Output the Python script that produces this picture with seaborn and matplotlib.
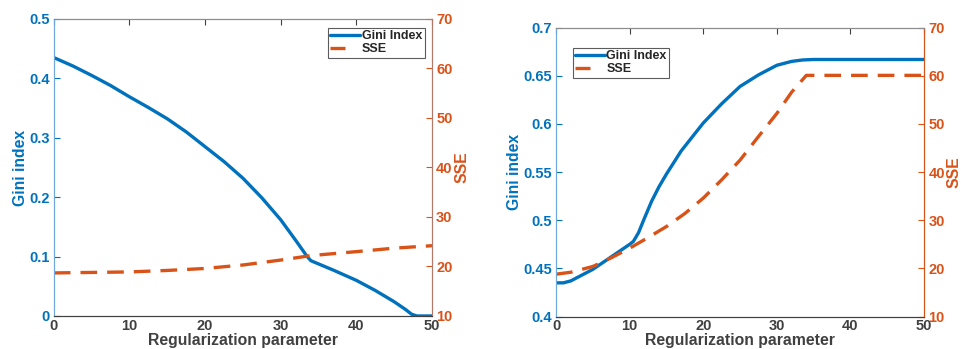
import numpy as np
import pandas as pd
import matplotlib
matplotlib.use("Agg")
import matplotlib.pyplot as plt
import seaborn as sns
from matplotlib.lines import Line2D

sns.set_style("white")
plt.rcParams['font.family'] = ['Liberation Sans', 'DejaVu Sans']
plt.rcParams['font.weight'] = 'bold'

# Left panel data
x_left = [0, 2.5, 5, 7.5, 10, 12.5, 15, 17.5, 20, 22.5, 25, 27.5, 30, 32, 33.5, 34,
          37, 40, 42.5, 45, 46.5, 47.3, 48, 50]
gini_left = [0.435, 0.421, 0.405, 0.388, 0.369, 0.351, 0.332, 0.310, 0.285, 0.260,
             0.232, 0.199, 0.162, 0.127, 0.100, 0.093, 0.077, 0.060, 0.043, 0.024,
             0.011, 0.003, 0.0, 0.0]
x_sse_left = [0, 10, 15, 20, 25, 30, 34, 40, 45, 50]
sse_left = [18.7, 18.9, 19.2, 19.6, 20.3, 21.3, 22.2, 23.0, 23.7, 24.2]

# Right panel data
x_right = [0, 1, 2, 3.5, 5, 7.5, 10, 10.5, 11.2, 12, 13, 14, 15, 17, 20, 22.5, 25,
           27.5, 30, 32, 33.5, 35, 50]
gini_right = [0.435, 0.435, 0.437, 0.443, 0.449, 0.462, 0.475, 0.478, 0.487, 0.502,
              0.520, 0.535, 0.548, 0.572, 0.601, 0.621, 0.639, 0.651, 0.661, 0.665,
              0.6665, 0.667, 0.667]
x_sse_right = [0, 2, 5, 7.5, 10, 12.5, 15, 17.5, 20, 22.5, 25, 27.5, 30, 32, 34, 50]
sse_right = [18.8, 19.2, 20.4, 22.2, 24.2, 26.4, 28.7, 31.4, 34.6, 38.4, 42.5, 47.4,
             52.2, 56.6, 60.1, 60.1]

xticks = [0, 10, 20, 30, 40, 50]
yticks_left = [0, 0.1, 0.2, 0.3, 0.4, 0.5]
yticks_right = [0.4, 0.45, 0.5, 0.55, 0.6, 0.65, 0.7]
sse_ticks = [10, 20, 30, 40, 50, 60, 70]

BLUE = '#0072BD'
ORANGE = '#D95319'
GRAY = '#404040'

fig = plt.figure(figsize=(9.61, 3.49), dpi=100)
ax1 = fig.add_axes([0.056, 0.0946, 0.3935, 0.851])
ax2 = fig.add_axes([0.5786, 0.093, 0.383, 0.8276])

TS = 10.5


def panel(ax, xg, g, xs, s, yt, ylim, legend_bbox, right_spine):
    sns.lineplot(x=xg, y=g, ax=ax, color=BLUE, lw=2.4, label='Gini Index', legend=False)
    ax.set_xlim(0, 50)
    ax.set_ylim(*ylim)
    ax.set_xticks(xticks)
    ax.set_yticks(yt)
    ax.set_yticklabels([f"{v:g}" for v in yt])
    ax.tick_params(axis='y', colors=BLUE, direction='in', length=4, labelsize=TS, width=0.8,
                   pad=3)
    ax.tick_params(axis='x', colors=GRAY, direction='in', length=4, labelsize=TS, top=True,
                   width=0.8, pad=2)
    for lab in ax.get_yticklabels():
        lab.set_color(BLUE)
        lab.set_fontweight('bold')
    for lab in ax.get_xticklabels():
        lab.set_color(GRAY)
        lab.set_fontweight('bold')
    ax.set_xlabel('Regularization parameter', fontsize=11.3, fontweight='bold', color=GRAY,
                  labelpad=0)
    ax.set_ylabel('Gini index', fontsize=11.3, fontweight='bold', color=BLUE, labelpad=1)
    ax2_ = ax.twinx()
    sns.lineplot(x=xs, y=s, ax=ax2_, color=ORANGE, lw=2.4, label='SSE', legend=False)
    ax2_.lines[0].set_dashes([5, 3])
    ax2_.set_ylim(10, 70)
    ax2_.set_yticks(sse_ticks)
    ax2_.tick_params(axis='y', colors=ORANGE, direction='in', length=4, labelsize=TS,
                     width=0.8, pad=3)
    for lab in ax2_.get_yticklabels():
        lab.set_color(ORANGE)
        lab.set_fontweight('bold')
    ax2_.set_ylabel('SSE', fontsize=11.3, fontweight='bold', color=ORANGE, labelpad=1)
    for a in (ax, ax2_):
        a.spines['top'].set_color('#8c8c8c')
        a.spines['bottom'].set_color(GRAY)
        a.spines['left'].set_color('#6fa8dc')
        a.spines['right'].set_color(right_spine)
        for sp in a.spines.values():
            sp.set_linewidth(0.8)
    handles = [Line2D([], [], color=BLUE, lw=2.4),
               Line2D([], [], color=ORANGE, lw=2.4, dashes=[4.5, 20])]
    leg = ax2_.legend(handles, ['Gini Index', 'SSE'], loc='upper left',
                      bbox_to_anchor=legend_bbox, frameon=True, fancybox=False,
                      edgecolor='#333333', handlelength=2.4,
                      handletextpad=0.1, borderpad=0.2, labelspacing=0.05,
                      borderaxespad=0,
                      prop={'weight': 'bold', 'size': 9})
    leg.get_frame().set_linewidth(0.8)
    return ax2_


panel(ax1, x_left, gini_left, x_sse_left, sse_left, yticks_left, (0, 0.5),
      (0.725, 0.97), '#b07a6a')
panel(ax2, x_right, gini_right, x_sse_right, sse_right, yticks_right, (0.4, 0.7),
      (0.045, 0.93), ORANGE)

fig.savefig('out.png', dpi=100)
